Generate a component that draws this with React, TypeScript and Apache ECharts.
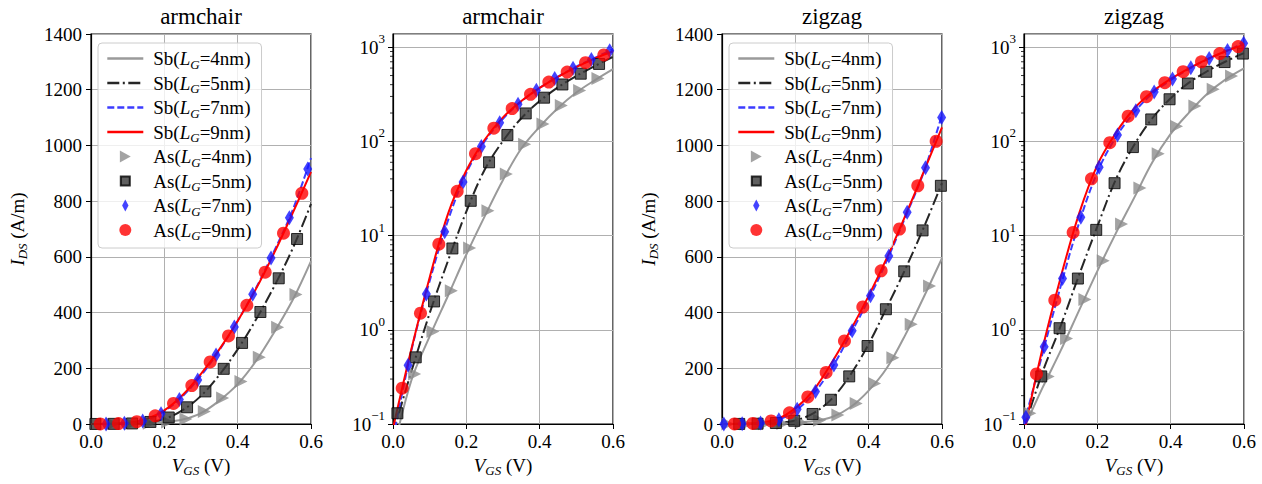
import React, { useEffect, useRef } from "react";
import * as echarts from "echarts";

// ---------- data ----------
const vgs = [0, 0.05, 0.1, 0.15, 0.2, 0.25, 0.3, 0.35, 0.4, 0.45, 0.5, 0.55, 0.6];

// armchair, Sb lines (A/m) at vgs
const sbArm4 = [0.05, 0.29, 0.85, 2.3, 6.3, 16, 39, 84, 143, 226, 330, 445, 585];
const sbArm5 = [0.08, 0.36, 1.5, 5.4, 18, 50, 101, 176, 268, 375, 495, 630, 790];
const sbArm7 = [0.07, 0.6, 3.3, 14.5, 46, 100, 174, 265, 370, 488, 622, 768, 955];
const sbArm9 = [0.09, 0.62, 3.6, 17, 49, 104, 180, 268, 370, 485, 615, 757, 905];

// zigzag, Sb lines
const sbZz4 = [0.09, 0.24, 0.6, 1.6, 4.2, 10.5, 25, 60, 120, 202, 320, 455, 595];
const sbZz5 = [0.09, 0.35, 1.1, 3.8, 12.5, 39, 91, 176, 287, 420, 556, 705, 865];
const sbZz7 = [0.1, 0.55, 2.9, 13.5, 47, 110, 202, 322, 447, 588, 743, 903, 1110];
const sbZz9 = [0.08, 0.62, 3.6, 17, 56, 122, 222, 336, 460, 597, 748, 905, 1065];

// armchair, As markers
const asArm4X = [0.059, 0.109, 0.159, 0.209, 0.259, 0.309, 0.359, 0.409, 0.459, 0.509, 0.559];
const asArm4Y = [0.34, 0.96, 2.6, 7.4, 18.3, 45, 93, 153, 240, 347, 465];
const asArm5X = [0.012, 0.062, 0.112, 0.162, 0.212, 0.262, 0.312, 0.362, 0.412, 0.462, 0.512, 0.562];
const asArm5Y = [0.13, 0.51, 2.0, 7.3, 23.4, 60, 117, 198, 291, 402, 523, 664];
const asArm7X = [0.041, 0.091, 0.141, 0.191, 0.241, 0.291, 0.341, 0.391, 0.441, 0.491, 0.541, 0.591];
const asArm7Y = [0.42, 2.4, 11, 37, 88, 158, 248, 348, 466, 596, 740, 915];
const asArm9X = [0.025, 0.075, 0.125, 0.175, 0.225, 0.275, 0.325, 0.375, 0.425, 0.475, 0.525, 0.575];
const asArm9Y = [0.24, 1.5, 8.1, 29.5, 74, 138, 223, 316, 426, 545, 685, 828];

// zigzag, As markers
const asZz4X = [0.016, 0.066, 0.116, 0.166, 0.216, 0.266, 0.316, 0.366, 0.416, 0.466, 0.516, 0.566];
const asZz4Y = [0.13, 0.32, 0.81, 2.1, 5.4, 13.3, 32, 74, 145, 238, 358, 495];
const asZz5X = [0.047, 0.097, 0.147, 0.197, 0.247, 0.297, 0.347, 0.397, 0.447, 0.497, 0.547, 0.597];
const asZz5Y = [0.32, 1.04, 3.5, 11.5, 36, 87, 171, 280, 412, 548, 695, 855];
const asZz7X = [0.005, 0.055, 0.105, 0.155, 0.205, 0.255, 0.305, 0.355, 0.405, 0.455, 0.505, 0.555, 0.599];
const asZz7Y = [0.118, 0.66, 3.5, 15.7, 53, 117, 212, 335, 460, 603, 760, 920, 1100];
const asZz9X = [0.034, 0.084, 0.134, 0.184, 0.234, 0.284, 0.334, 0.384, 0.434, 0.484, 0.534, 0.584];
const asZz9Y = [0.34, 2.06, 10.8, 40, 97, 185, 298, 420, 550, 700, 855, 1015];

const sbNames = ["Sb(LG=4nm)", "Sb(LG=5nm)", "Sb(LG=7nm)", "Sb(LG=9nm)"];
const asNames = ["As(LG=4nm)", "As(LG=5nm)", "As(LG=7nm)", "As(LG=9nm)"];
const panelTitles = ["armchair", "armchair", "zigzag", "zigzag"];
const minorLogTicks = [
  0.2, 0.3, 0.4, 0.5, 0.6, 0.7, 0.8, 0.9,
  2, 3, 4, 5, 6, 7, 8, 9,
  20, 30, 40, 50, 60, 70, 80, 90,
  200, 300, 400, 500, 600, 700, 800, 900,
];

const materials = [
  { sb: [sbArm4, sbArm5, sbArm7, sbArm9], asX: [asArm4X, asArm5X, asArm7X, asArm9X], asY: [asArm4Y, asArm5Y, asArm7Y, asArm9Y] },
  { sb: [sbZz4, sbZz5, sbZz7, sbZz9], asX: [asZz4X, asZz5X, asZz7X, asZz9X], asY: [asZz4Y, asZz5Y, asZz7Y, asZz9Y] },
];

// ---------- layout / style ----------
const FONT = "'Liberation Serif', 'DejaVu Serif', serif";
const panels = [
  { left: 91, mat: 0, log: false },
  { left: 393, mat: 0, log: true },
  { left: 722, mat: 1, log: false },
  { left: 1024, mat: 1, log: true },
];
const PW = 220;
const TOP = 34;
const PH = 390;

const lineStyles: any[] = [
  { color: "#9a9a9a", width: 2, type: "solid" },
  { color: "#262626", width: 2, type: [12, 3.5, 2, 3.5] },
  { color: "#3c3cff", width: 2, type: [7, 3] },
  { color: "#ff0000", width: 2, type: "solid" },
];
const markerStyles: any[] = [
  { symbol: "triangle", symbolRotate: -90, symbolSize: 13, itemStyle: { color: "#8c8c8c" } },
  { symbol: "rect", symbolSize: 11, itemStyle: { color: "#383838", borderColor: "#000", borderWidth: 1 } },
  { symbol: "diamond", symbolSize: [9, 15], itemStyle: { color: "#1414ff" } },
  { symbol: "circle", symbolSize: 13, itemStyle: { color: "#ff0000" } },
];
// legend icons of the marker entries (shape only, keeps aspect)
const legendMarkerIcons = [
  "path://M0,0L10,5.5L0,11Z",
  "path://M-1.5,-1.5M0,0L9,0L9,9L0,9ZM10.5,10.5",
  "path://M4,0L8,7.5L4,15L0,7.5Z",
  "path://M6,0A6,6,0,1,1,6,12A6,6,0,1,1,6,0Z",
];

const richBase = (fs: number, sub: number, lh: number) => ({
  t: { fontFamily: FONT, fontSize: fs, color: "#000", lineHeight: lh },
  i: { fontFamily: FONT, fontSize: fs, fontStyle: "italic", color: "#000", lineHeight: lh },
  s: { fontFamily: FONT, fontSize: sub, fontStyle: "italic", color: "#000", verticalAlign: "bottom", lineHeight: lh + 2 },
});

const legendFormatter = (name: string) => {
  const m = name.match(/^(\w+)\(LG=(\d+)nm\)$/);
  if (!m) return name;
  return `{t|${m[1]}(}{i|L}{s|G}{t|=${m[2]}nm)}`;
};

const logLabel = (v: number) => {
  const l = Math.log10(v);
  const e = Math.round(l);
  if (Math.abs(l - e) > 0.01) return "";
  return `{b|10}{e|${e < 0 ? "\u2212" + -e : e}}`;
};

export default function App() {
  const ref = useRef<HTMLDivElement>(null);
  useEffect(() => {
    const chart = echarts.init(ref.current!, null, { renderer: "svg" });

    const grid = panels.map((p) => ({
      left: p.left, top: TOP, width: PW, height: PH,
      show: true, borderColor: "#000", borderWidth: 1.2, backgroundColor: "transparent",
      outerBoundsMode: "none",
      containLabel: false,
    }));

    const xAxis = panels.map((p, i) => ({
      type: "value", gridIndex: i, min: 0, max: 0.6, interval: 0.2,
      axisLine: { show: true, onZero: false, lineStyle: { color: "#000", width: 1.2 } },
      axisTick: { show: true, inside: false, length: 5, lineStyle: { color: "#000", width: 1 } },
      axisLabel: { color: "#000", fontFamily: FONT, fontSize: 19, margin: 8, formatter: (v: number) => v.toFixed(1) },
      splitLine: { show: true, lineStyle: { color: "#b0b0b0", width: 1 } },
      name: "{i|V}{s|GS}{t| (V)}",
      nameLocation: "middle",
      nameGap: 29,
      nameTextStyle: { rich: richBase(19, 13, 22) },
    }));

    const yAxis = panels.map((p, i) => {
      const common: any = {
        gridIndex: i,
        axisLine: { show: true, onZero: false, lineStyle: { color: "#000", width: 1.2 } },
        axisTick: { show: true, inside: false, length: 5, lineStyle: { color: "#000", width: 1 } },
        splitLine: { show: true, lineStyle: { color: "#b0b0b0", width: 1 } },
      };
      if (p.log) {
        return {
          ...common,
          type: "log", logBase: 10, min: 0.1, max: 1380,
          axisLabel: {
            color: "#000", margin: 8, showMaxLabel: false, formatter: logLabel,
            rich: {
              b: { fontFamily: FONT, fontSize: 19, color: "#000", lineHeight: 30 },
              e: { fontFamily: FONT, fontSize: 13, color: "#000", verticalAlign: "top", lineHeight: 30 },
            },
          },
        };
      }
      return {
        ...common,
        type: "value", min: 0, max: 1400, interval: 200,
        axisLabel: { color: "#000", fontFamily: FONT, fontSize: 19, margin: 9, formatter: (v: number) => String(v) },
        name: "{i|I}{s|DS}{t| (A/m)}",
        nameLocation: "middle",
        nameGap: 62,
        nameTextStyle: { rich: richBase(19, 13, 22) },
      };
    });

    const series: any[] = [];
    panels.forEach((p, pi) => {
      const mat = materials[p.mat];
      mat.sb.forEach((arr, k) => {
        series.push({
          type: "line", name: sbNames[k], xAxisIndex: pi, yAxisIndex: pi,
          data: vgs.map((x, j) => [x, arr[j]]),
          symbol: "none", showSymbol: false, smooth: 0.35,
          lineStyle: lineStyles[k], itemStyle: { color: lineStyles[k].color },
          z: 2, silent: true, clip: true,
        });
      });
      mat.asX.forEach((xs, k) => {
        series.push({
          type: "scatter", name: asNames[k], xAxisIndex: pi, yAxisIndex: pi,
          data: xs.map((x, j) => [x, mat.asY[k][j]]),
          ...markerStyles[k],
          z: 3, silent: true, clip: true,
        });
      });
      if (p.log) {
        series.push({
          type: "custom", xAxisIndex: pi, yAxisIndex: pi, silent: true, clip: false, z: 5,
          data: minorLogTicks.map((v) => [0, v]),
          renderItem: (_params: any, api: any) => {
            const pt = api.coord([0, api.value(1)]);
            return {
              type: "line",
              shape: { x1: pt[0] - 3, y1: pt[1], x2: pt[0], y2: pt[1] },
              style: { stroke: "#000", lineWidth: 0.8 },
            };
          },
        });
      }
    });

    const legendData = [
      ...sbNames.map((n, k) => ({
        name: n,
        itemStyle: { opacity: 0 },
        lineStyle: { width: 2.6, color: lineStyles[k].color, type: lineStyles[k].type },
      })),
      ...asNames.map((n, k) => ({ name: n, icon: legendMarkerIcons[k] })),
    ];

    const legend = [0, 2].map((pi) => ({
      show: true,
      left: panels[pi].left + 7,
      top: 43,
      orient: "vertical",
      data: legendData,
      itemWidth: 36,
      itemHeight: 12,
      itemGap: 3,
      padding: [6, 10, 6, 8],
      backgroundColor: "rgba(255,255,255,0.8)",
      borderColor: "#cccccc",
      borderWidth: 1,
      borderRadius: 4,
      selectedMode: false,
      formatter: legendFormatter,
      textStyle: { padding: [0, 0, 0, 5], rich: richBase(19, 13, 22) },
    }));

    const graphic = panels.map((p, i) => ({
      type: "text",
      x: p.left + PW / 2,
      y: 16,
      style: {
        text: panelTitles[i],
        fill: "#000",
        font: `23px ${FONT}`,
        textAlign: "center",
        textVerticalAlign: "middle",
      },
    }));

    chart.setOption({
      animation: false,
      backgroundColor: "#fff",
      textStyle: { fontFamily: FONT },
      grid,
      xAxis,
      yAxis,
      legend,
      graphic,
      series,
    });
    return () => chart.dispose();
  }, []);
  return (
    <div
      ref={ref}
      style={{ position: "absolute", left: 0, top: 0, width: 1262, height: 484, background: "#fff" }}
    />
  );
}
